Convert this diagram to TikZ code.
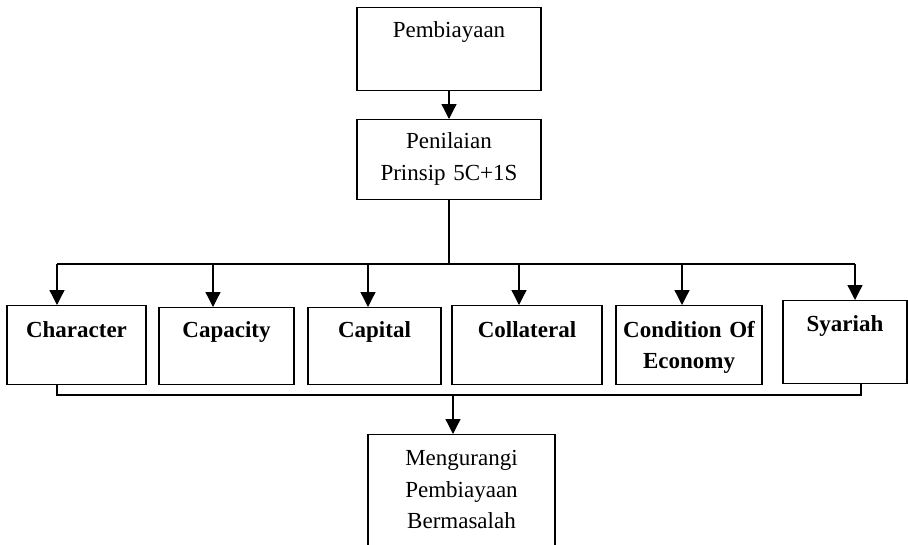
\documentclass[tikz,border=0pt]{standalone}
\usepackage{fontspec}
\setmainfont{Liberation Serif}
\usetikzlibrary{arrows.meta}

\tikzset{
  kotak/.style={draw, line width=1.3pt, inner sep=0pt, align=center, anchor=north,
    font=\fontsize{23}{31.5}\selectfont},
  prinsip/.style={kotak, font=\fontsize{23}{31}\selectfont\bfseries},
  panah/.style={-{Triangle[length=15pt,width=15pt]}}
}

\begin{document}
\begin{tikzpicture}[x=1pt, y=-1pt, line width=1.3pt]
  \useasboundingbox (0,0) rectangle (908,544);

  % Top boxes
  \node[kotak, text width=184pt, text height=30pt, text depth=53pt] (biaya) at (449,7) {Pembiayaan};
  \node[kotak, text width=184pt, text height=29pt, text depth=51pt] (nilai) at (449,119) {Penilaian\\Prinsip 5C+1S};

  % The 5C+1S boxes
  \node[prinsip, text width=139pt, text height=32pt, text depth=47pt] (char) at (76.5,305) {Character};
  \node[prinsip, text width=135pt, text height=30pt, text depth=47pt] (capa) at (226.5,307) {Capacity};
  \node[prinsip, text width=133pt, text height=30pt, text depth=47pt] (capi) at (374.5,307) {Capital};
  \node[prinsip, text width=150pt, text height=32pt, text depth=47pt] (coll) at (527,305) {Collateral};
  \node[prinsip, text width=146pt, text height=32pt, text depth=47pt] (cond) at (689,305) {Condition Of\\Economy};
  \node[prinsip, text width=124pt, text height=31pt, text depth=52pt] (syar) at (845,300) {Syariah};

  % Result
  \node[kotak, text width=187pt, text height=31pt, text depth=83pt] (hasil) at (461.5,434) {Mengurangi\\Pembiayaan\\Bermasalah};

  % Pembiayaan to Penilaian
  \draw[panah] (biaya.south) -- (nilai.north);

  % Branch bar
  \coordinate (atas) at (nilai.south |- 0,264);
  \coordinate (a1) at (57,264);
  \coordinate (a2) at (213,264);
  \coordinate (a3) at (368,264);
  \coordinate (a4) at (519,264);
  \coordinate (a5) at (682,264);
  \coordinate (a6) at (855,264);
  \draw (nilai.south) -- (atas);
  \draw (a1) -- (a6);
  \draw[panah] (a1) -- (a1 |- char.north);
  \draw[panah] (a2) -- (a2 |- capa.north);
  \draw[panah] (a3) -- (a3 |- capi.north);
  \draw[panah] (a4) -- (a4 |- coll.north);
  \draw[panah] (a5) -- (a5 |- cond.north);
  \draw[panah] (a6) -- (a6 |- syar.north);

  % Joining bar
  \coordinate (b1) at (57,395);
  \coordinate (b2) at (861,395);
  \coordinate (bawah) at (453,395);
  \draw (b1 |- char.south) -- (b1) -- (b2) -- (b2 |- syar.south);
  \draw[panah] (bawah) -- (bawah |- hasil.north);
\end{tikzpicture}
\end{document}
